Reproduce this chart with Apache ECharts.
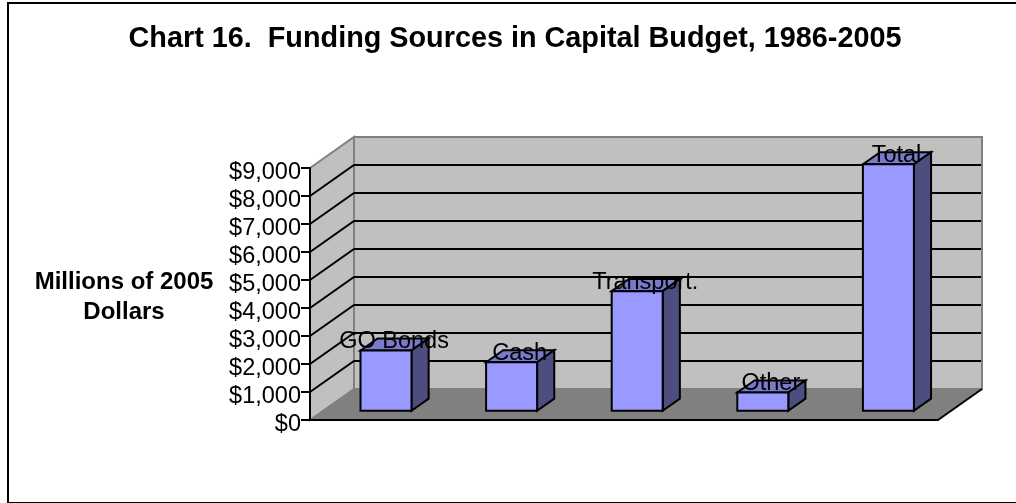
<!DOCTYPE html>
<html>
<head>
<meta charset="utf-8">
<style>html,body{margin:0;padding:0;background:#fff}#chart{width:1016px;height:503px}</style>
<script src="https://cdn.jsdelivr.net/npm/echarts@6/dist/echarts.min.js"></script>
</head>
<body>
<div id="chart"></div>
<script>
// Capital budget funding sources, millions of 2005 dollars
const categories = ['GO Bonds', 'Cash', 'Transport.', 'Other', 'Total'];
const amounts = [2150, 1730, 4270, 650, 8800];
const wallLines = [1000, 2000, 3000, 4000, 5000, 6000, 7000, 8000];

// Oblique projection used for the floor, walls and columns
const FLOOR_DX = 44, FLOOR_DY = 31;
const BAR_NEAR = 0.3, BAR_FAR = 0.69, BAR_WIDTH = 51;

const FONT = '"Liberation Sans", Arial, sans-serif';
const WALL = '#c0c0c0', FLOOR = '#808080', EDGE = '#808080';
const FRONT = '#9999ff', TOP = '#7a7acc', SIDE = '#4d4d80';

function poly(points, fill, stroke, width) {
  return {
    type: 'polygon',
    shape: { points },
    style: { fill, stroke, lineWidth: width, lineJoin: 'miter' }
  };
}

function renderWalls(params) {
  const g = params.coordSys;
  const l = g.x, r = g.x + g.width, t = g.y, b = g.y + g.height;
  const dx = FLOOR_DX, dy = FLOOR_DY;
  return {
    type: 'group',
    children: [
      poly([[l, t], [l + dx, t - dy], [l + dx, b - dy], [l, b]], WALL, EDGE, 2),
      poly([[l + dx, t - dy], [r + dx, t - dy], [r + dx, b - dy], [l + dx, b - dy]], WALL, EDGE, 2),
      poly([[l, b], [l + dx, b - dy], [r + dx, b - dy], [r, b]], FLOOR, null, 0),
      { type: 'line', shape: { x1: r, y1: b, x2: r + dx, y2: b - dy }, style: { stroke: '#000', lineWidth: 2 } }
    ]
  };
}

function renderGridline(params, api) {
  const g = params.coordSys;
  const y = api.coord([0, api.value(1)])[1];
  const l = g.x, r = g.x + g.width;
  return {
    type: 'polyline',
    shape: { points: [[l, y], [l + FLOOR_DX, y - FLOOR_DY], [r + FLOOR_DX - 1, y - FLOOR_DY]] },
    style: { fill: null, stroke: '#000', lineWidth: 2 }
  };
}

function renderColumn(params, api) {
  const idx = api.value(0);
  const cx = api.coord([idx, 0])[0];
  const base = api.coord([idx, 0])[1];
  const top = api.coord([idx, api.value(1)])[1];
  const nx = BAR_NEAR * FLOOR_DX, ny = BAR_NEAR * FLOOR_DY;
  const fx = BAR_FAR * FLOOR_DX, fy = BAR_FAR * FLOOR_DY;
  const x0 = cx - BAR_WIDTH / 2 + nx, x1 = x0 + BAR_WIDTH;
  const y0 = base - ny, y1 = top - ny;
  const ddx = fx - nx, ddy = fy - ny;
  return {
    type: 'group',
    children: [
      poly([[x0, y1], [x0 + ddx, y1 - ddy], [x1 + ddx, y1 - ddy], [x1, y1]], TOP, '#000', 2),
      poly([[x1, y0], [x1 + ddx, y0 - ddy], [x1 + ddx, y1 - ddy], [x1, y1]], SIDE, '#000', 2),
      poly([[x0, y0], [x1, y0], [x1, y1], [x0, y1]], FRONT, '#000', 2)
    ]
  };
}

function renderColumnName(params, api) {
  const idx = api.value(0);
  const cx = api.coord([idx, 0])[0];
  const top = api.coord([idx, api.value(1)])[1];
  const frontX = BAR_NEAR * FLOOR_DX, backX = BAR_FAR * FLOOR_DX, backY = BAR_FAR * FLOOR_DY;
  return {
    type: 'text',
    style: {
      text: categories[idx],
      x: cx + (frontX + backX) / 2 - 0.5,
      y: top - backY + 3,
      align: 'center',
      verticalAlign: 'middle',
      fill: '#000',
      font: '23.5px ' + FONT
    }
  };
}

const chart = echarts.init(document.getElementById('chart'), null, { renderer: 'canvas' });
chart.setOption({
  animation: false,
  backgroundColor: '#fff',
  title: {
    text: 'Chart 16.  Funding Sources in Capital Budget, 1986-2005',
    left: 510, top: 20, textAlign: 'center',
    textStyle: { fontFamily: FONT, fontSize: 28.8, fontWeight: 'bold', color: '#000' }
  },
  graphic: [
    {
      type: 'polyline', silent: true,
      shape: { points: [[8, 503], [8, 3], [1016, 3]] },
      style: { fill: null, stroke: '#000', lineWidth: 2 }
    },
    {
      type: 'line', silent: true,
      shape: { x1: 8, y1: 502.5, x2: 1016, y2: 502.5 },
      style: { stroke: '#000', lineWidth: 1 }
    },
    {
      type: 'text', silent: true,
      style: {
        text: 'Millions of 2005\nDollars',
        x: 124, y: 297, align: 'center', verticalAlign: 'middle',
        lineHeight: 30, fill: '#000',
        font: 'bold 24px ' + FONT
      }
    }
  ],
  grid: { left: 310, right: 78, top: 168, bottom: 83 },
  xAxis: {
    type: 'category',
    data: categories,
    z: 10,
    axisLine: { show: true, lineStyle: { color: '#000', width: 2 } },
    axisTick: { show: false },
    axisLabel: { show: false },
    splitLine: { show: false }
  },
  yAxis: {
    type: 'value',
    min: 0, max: 9000, interval: 1000,
    z: 10,
    axisLine: { show: true, lineStyle: { color: '#000', width: 2 } },
    axisTick: { show: true, length: 9, lineStyle: { color: '#000', width: 2 } },
    axisLabel: {
      margin: 9,
      formatter: v => '{tick|$' + v.toLocaleString('en-US') + '}',
      rich: {
        tick: { color: '#000', fontFamily: FONT, fontSize: 23.5, padding: [10, 0, 0, 0] }
      }
    },
    splitLine: { show: false }
  },
  series: [
    { type: 'custom', name: 'walls', silent: true, z: 1, renderItem: renderWalls, data: [[0, 0]] },
    { type: 'custom', name: 'gridlines', silent: true, z: 2, renderItem: renderGridline,
      data: wallLines.map(v => [0, v]) },
    { type: 'custom', name: 'columns', silent: true, z: 3, renderItem: renderColumn,
      data: amounts.map((v, i) => [i, v]) },
    { type: 'custom', name: 'column names', silent: true, z: 4, renderItem: renderColumnName,
      data: amounts.map((v, i) => [i, v]) }
  ]
});
</script>
</body>
</html>
